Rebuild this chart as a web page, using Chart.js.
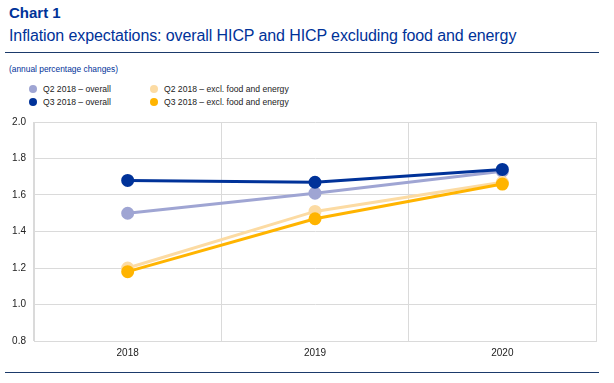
<!DOCTYPE html>
<html><head><meta charset="utf-8">
<script src="https://cdn.jsdelivr.net/npm/chart.js@4/dist/chart.umd.min.js"></script>
<style>
html,body{margin:0;padding:0;background:#fff;width:614px;height:383px;overflow:hidden;font-family:"Liberation Sans",Arial,sans-serif;}
#t1{position:absolute;left:9px;top:4px;font-size:15px;font-weight:bold;color:#003299;}
#t2{position:absolute;left:9px;top:27px;font-size:16px;color:#003299;white-space:nowrap;letter-spacing:-0.1px;}
#hr1{position:absolute;left:5px;top:52px;width:594px;height:0;border-top:1.5px solid #1b3a6b;}
#hr2{position:absolute;left:5px;top:372px;width:594px;height:0;border-top:1.5px solid #1b3a6b;}
#unit{position:absolute;left:9px;top:64px;font-size:8.4px;color:#003299;}
.lg{position:absolute;font-size:8.6px;color:#222;white-space:nowrap;}
.lg span{display:inline-block;width:8px;height:8px;border-radius:50%;vertical-align:-1px;margin-right:6px;}
#wrap{position:absolute;left:0;top:108px;width:614px;height:262px;}
</style></head><body>
<div id="t1">Chart 1</div>
<div id="t2">Inflation expectations: overall HICP and HICP excluding food and energy</div>
<div id="hr1"></div>
<div id="unit">(annual percentage changes)</div>
<div id="legend"></div>
<div id="wrap"><canvas id="c"></canvas></div>
<div id="hr2"></div>
<script>
const categories = ["2018", "2019", "2020"];
const seriesNames = ["Q2 2018 – overall", "Q3 2018 – overall", "Q2 2018 – excl. food and energy", "Q3 2018 – excl. food and energy"];
const q2Overall = [1.50, 1.61, 1.73];
const q3Overall = [1.68, 1.67, 1.74];
const q2Excl = [1.20, 1.51, 1.67];
const q3Excl = [1.18, 1.47, 1.66];
const yTicks = [0.8, 1.0, 1.2, 1.4, 1.6, 1.8, 2.0];

const colors = ["#9fa5d3", "#003299", "#fcdba3", "#ffb400"];
const values = [q2Overall, q3Overall, q2Excl, q3Excl];
const orders = [3, 0, 2, 1];

const legPos = [[29,84],[29,97],[150,84],[150,97]];
const lg = document.getElementById('legend');
seriesNames.forEach((n,i)=>{
  const d=document.createElement('div');d.className='lg';
  d.style.left=legPos[i][0]+'px';d.style.top=legPos[i][1]+'px';
  d.innerHTML='<span style="background:'+colors[i]+'"></span>'+n;
  lg.appendChild(d);
});

new Chart(document.getElementById('c'), {
  type: 'line',
  data: {
    labels: categories,
    datasets: values.map((v,i)=>({
      label: seriesNames[i], data: v, borderColor: colors[i], backgroundColor: colors[i],
      pointBackgroundColor: colors[i], pointBorderColor: colors[i],
      borderWidth: 3, pointRadius: 5, tension: 0, order: orders[i]
    }))
  },
  options: {
    responsive: true, maintainAspectRatio: false, animation: false,
    layout: { padding: { top: 6, right: 18, left: 0, bottom: 0 } },
    plugins: { legend: { display: false }, tooltip: { enabled: false } },
    scales: {
      x: {
        offset: true,
        grid: { offset: true, color: '#dadada', lineWidth: 1, drawTicks: false },
        border: { color: '#dadada' },
        ticks: { color: '#222', font: { family: 'Liberation Sans', size: 10 }, padding: 6 },
        afterFit: s => { s.height = 29; }
      },
      y: {
        min: 0.8, max: 2.0,
        afterBuildTicks: s => { s.ticks = yTicks.map(v=>({value:v})); },
        grid: { color: '#dadada', lineWidth: 1, drawTicks: false },
        border: { color: '#dadada' },
        ticks: { color: '#222', font: { family: 'Liberation Sans', size: 10 }, padding: 8,
                 callback: v => v.toFixed(1) },
        afterFit: s => { s.width = 34; }
      }
    }
  }
});
</script>
</body></html>
